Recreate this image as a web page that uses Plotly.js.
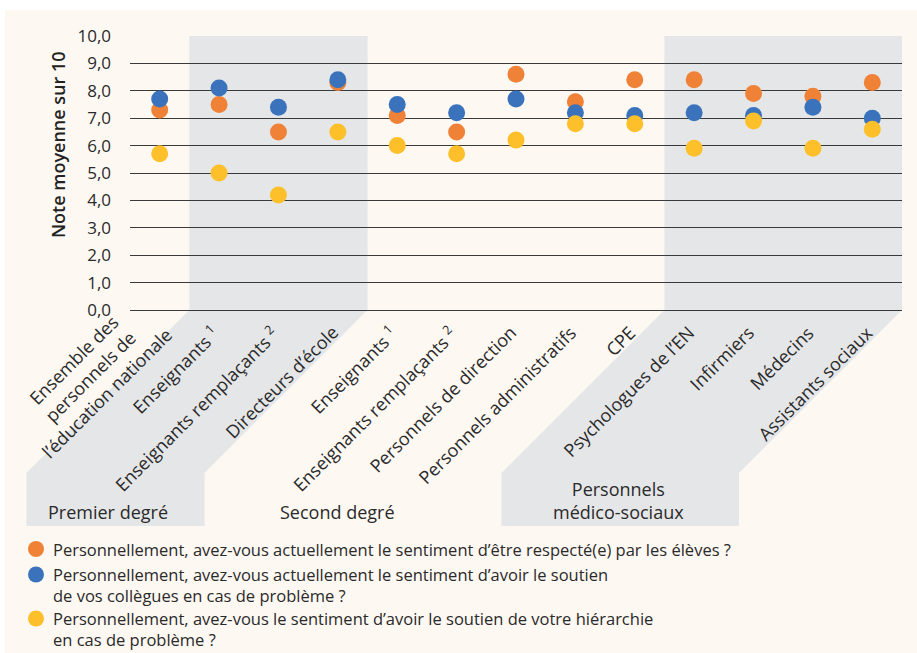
<!DOCTYPE html>
<html>
<head>
<meta charset="utf-8">
<script src="https://cdn.plot.ly/plotly-3.0.1.min.js"></script>
<style>
  html, body { margin: 0; padding: 0; background: #ffffff; }
  #chart { width: 917px; height: 653px; }
</style>
</head>
<body>
<div id="chart"></div>
<script>
// ---- Data ----
var categories = [
  "Ensemble des<br>personnels de<br>l’éducation nationale",
  "Enseignants <sup>1</sup>",
  "Enseignants remplaçants <sup>2</sup>",
  "Directeurs d’école",
  "Enseignants <sup>1</sup> ",
  "Enseignants remplaçants <sup>2</sup> ",
  "Personnels de direction",
  "Personnels administratifs",
  "CPE",
  "Psychologues de l’EN",
  "Infirmiers",
  "Médecins",
  "Assistants sociaux"
];
var respectEleves = [7.3, 7.5, 6.5, 8.3, 7.1, 6.5, 8.6, 7.6, 8.4, 8.4, 7.9, 7.8, 8.3];
var soutienCollegues = [7.7, 8.1, 7.4, 8.4, 7.5, 7.2, 7.7, 7.2, 7.1, 7.2, 7.1, 7.4, 7.0];
var soutienHierarchie = [5.7, 5.0, 4.2, 6.5, 6.0, 5.7, 6.2, 6.8, 6.8, 5.9, 6.9, 5.9, 6.6];
var seriesNames = [
  "Personnellement, avez-vous actuellement le sentiment d’être respecté(e) par les élèves ?",
  "Personnellement, avez-vous actuellement le sentiment d’avoir le soutien<br>de vos collègues en cas de problème ?",
  "Personnellement, avez-vous le sentiment d’avoir le soutien de votre hiérarchie<br>en cas de problème ?"
];
var seriesColors = ["#F08238", "#3A72BC", "#FEC02A"];
var yTicks = [0, 1, 2, 3, 4, 5, 6, 7, 8, 9, 10];
var groupLabels = ["Premier degré", "Second degré", "Personnels<br>médico-sociaux"];
var shadedGroups = [[1, 3], [9, 12]]; // category index ranges with grey band

// ---- Layout geometry (pixels) ----
var W = 917, H = 653;
var mL = 130, mR = 15, mT = 36, mB = 343;
var PW = W - mL - mR, PH = H - mT - mB;
function pxX(px) { return (px - mL) / PW; }
function pxY(py) { return (H - mB - py) / PH; }

var nCat = categories.length;
var drop = 163;                  // 45° diagonal drop in px
var bandBottom = pxY(526);

function bandPath(i0, i1) {
  var x0 = i0 / nCat, x1 = (i1 + 1) / nCat;
  var dx = drop / PW, dy = drop / PH;
  return "M" + x0 + ",1 L" + x1 + ",1 L" + x1 + ",0 L" + (x1 - dx) + "," + (-dy) +
         " L" + (x1 - dx) + "," + bandBottom + " L" + (x0 - dx) + "," + bandBottom +
         " L" + (x0 - dx) + "," + (-dy) + " L" + x0 + ",0 Z";
}

var shapes = [
  // white outer margin (top and left)
  {type: "rect", xref: "paper", yref: "paper", x0: pxX(-5), x1: pxX(W + 5), y0: pxY(10), y1: pxY(-5),
   fillcolor: "#ffffff", line: {width: 0}, layer: "below"},
  {type: "rect", xref: "paper", yref: "paper", x0: pxX(-5), x1: pxX(5), y0: pxY(H + 5), y1: pxY(-5),
   fillcolor: "#ffffff", line: {width: 0}, layer: "below"}
];
shadedGroups.forEach(function (g) {
  shapes.push({type: "path", xref: "paper", yref: "paper", path: bandPath(g[0], g[1]),
    fillcolor: "#E5E6E8", line: {width: 0}, layer: "below"});
});

var traces = [respectEleves, soutienCollegues, soutienHierarchie].map(function (vals, k) {
  return {
    type: "scatter", mode: "markers",
    x: categories, y: vals, name: seriesNames[k].replace("<br>", " "),
    marker: {color: seriesColors[k], size: 17},
    hoverinfo: "x+y"
  };
});

var fontFam = "'Open Sans', 'DejaVu Sans', sans-serif";
var txtCol = "#2a2a2a";
var labelSize = 18, lineH = labelSize * 1.3;

function paperAnn(text, px, py, size, extra) {
  var a = {text: text, xref: "paper", yref: "paper", x: pxX(px), y: pxY(py),
    xanchor: "center", yanchor: "middle", showarrow: false,
    font: {family: fontFam, size: size, color: txtCol}};
  for (var k in extra) a[k] = extra[k];
  return a;
}

var annotations = [
  paperAnn("Note moyenne sur 10", 58, 145, 18,
    {textangle: -90, font: {family: fontFam, size: 18, weight: 600, color: "#222"}}),
  paperAnn(groupLabels[0], 108, 512, 18),
  paperAnn(groupLabels[1], 337, 512, 18),
  paperAnn(groupLabels[2], 618, 501, 18)
];

// rotated category labels
categories.forEach(function (c) {
  var nLines = c.split("<br>").length;
  var yTop = 318 - 0.7071 * (nLines - 1) * lineH + (nLines - 1) * 1;
  annotations.push({
    text: c.trim(), xref: "x", yref: "paper", x: c, y: pxY(yTop),
    xanchor: "right", yanchor: "top", xshift: 8 + (nLines - 1) * 6, textangle: -45, align: "center",
    showarrow: false, font: {family: fontFam, size: labelSize, color: txtCol}
  });
});

// manual legend
var legendFirstLineY = [549, 574.5, 618.5];
var legendSize = 16.5, legendLineH = legendSize * 1.3;
seriesNames.forEach(function (name, k) {
  var cy = legendFirstLineY[k];
  var nLines = name.split("<br>").length;
  shapes.push({type: "circle", xref: "paper", yref: "paper",
    xsizemode: "pixel", ysizemode: "pixel", xanchor: pxX(36), yanchor: pxY(cy),
    x0: -8, x1: 8, y0: -8, y1: 8, fillcolor: seriesColors[k], line: {width: 0}});
  annotations.push(paperAnn(name, 52, cy + (nLines - 1) * legendLineH / 2, legendSize,
    {xanchor: "left", align: "left", borderpad: 0}));
});

var layout = {
  width: W, height: H,
  margin: {l: mL, r: mR, t: mT, b: mB, pad: 0},
  paper_bgcolor: "#FDF8F2",
  plot_bgcolor: "rgba(0,0,0,0)",
  font: {family: fontFam, color: txtCol, size: 16},
  separators: ", ",
  showlegend: false,
  xaxis: {
    type: "category", range: [-0.5, nCat - 0.5],
    showgrid: false, zeroline: false, showline: false,
    showticklabels: false, ticks: "",
    fixedrange: true
  },
  yaxis: {
    range: [0, 10], tickvals: yTicks, tickformat: ".1f",
    showgrid: true, gridcolor: "#3a3a3a", gridwidth: 1,
    zeroline: true, zerolinecolor: "#3a3a3a", zerolinewidth: 1,
    showline: false, ticks: "", ticklabelstandoff: 18,
    tickfont: {family: fontFam, size: 17, color: txtCol},
    fixedrange: true
  },
  shapes: shapes,
  annotations: annotations
};

Plotly.newPlot("chart", traces, layout, {displayModeBar: false, staticPlot: true});
</script>
</body>
</html>
